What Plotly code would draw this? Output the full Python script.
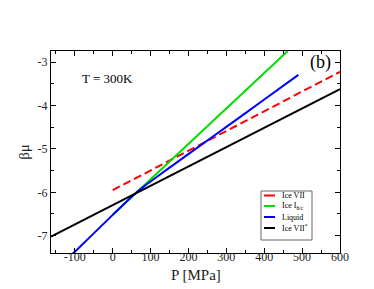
import plotly.graph_objects as go

# data
p_ice7 = [0, 600]
mu_ice7 = [-5.95, -3.22]
p_ice1 = [0, 462]
mu_ice1 = [-6.52, -2.74]
p_liq = [-110, -100, 0, 50, 80, 100, 150, 230, 300, 400, 490]
mu_liq = [-7.45, -7.37, -6.52, -6.1, -5.88, -5.75, -5.43, -4.93, -4.49, -3.86, -3.29]
p_ice7s = [-163, 600]
mu_ice7s = [-7.02, -3.62]

series_names = ["Ice VII", "Ice I<sub>h/c</sub>", "Liquid", "Ice VII<sup>*</sup>"]
series_colors = ["#ff0000", "#00dd00", "#0000ff", "#000000"]
series_dash = ["8px,4px", "solid", "solid", "solid"]

x_ticks = [-100, 0, 100, 200, 300, 400, 500, 600]
x_tick_labels = ["-100", "0", "100", "200", "300", "400", "500", "600"]
y_ticks = [-7, -6, -5, -4, -3]
y_tick_labels = ["-7", "-6", "-5", "-4", "-3"]

serif = "Liberation Serif"

fig = go.Figure()
for xs, ys, nm, col, ds in zip([p_ice7, p_ice1, p_liq, p_ice7s],
                               [mu_ice7, mu_ice1, mu_liq, mu_ice7s],
                               series_names, series_colors, series_dash):
    line = dict(color=col, width=2, dash=ds)
    if nm == "Liquid":
        line.update(shape="spline", smoothing=0.6)
    fig.add_trace(go.Scatter(x=xs, y=ys, mode="lines", name=nm, line=line, showlegend=False))

axis_common = dict(showline=True, linecolor="black", linewidth=1, mirror="allticks",
                   ticks="inside", ticklen=5, tickcolor="black", showgrid=False,
                   zeroline=False, tickfont=dict(family=serif, size=12, color="#222"))

fig.update_xaxes(range=[-163, 600], tickvals=x_ticks, ticktext=x_tick_labels,
                 minor=dict(dtick=50, tick0=0, ticks="inside", ticklen=3, tickcolor="black"),
                 ticklabelstandoff=-7,
                 **axis_common)
fig.update_yaxes(range=[-7.4, -2.74], tickvals=y_ticks, ticktext=y_tick_labels,
                 minor=dict(dtick=0.5, tick0=0, ticks="inside", ticklen=3, tickcolor="black"),
                 title=dict(text="βμ", font=dict(family=serif, size=15, color="#222"), standoff=4),
                 **axis_common)

fig.add_annotation(xref="paper", yref="paper", x=0.5, y=-0.107, text="P [MPa]",
                   showarrow=False, yanchor="middle",
                   font=dict(family=serif, size=15, color="#222"))
fig.add_annotation(x=-13, y=-3.38, text="T = 300K", showarrow=False,
                   font=dict(family=serif, size=13, color="black"))
fig.add_annotation(x=548, y=-3.0, text="(b)", showarrow=False,
                   font=dict(family=serif, size=18, color="black"))

# manual compact legend (paper coordinates)
x0p, x1p = 43, 332
y0p, y1p = 43, 245
def px_x(v):
    return (v - x0p) / (x1p - x0p)
def px_y(v):
    return (y1p - v) / (y1p - y0p)

fig.add_shape(type="rect", xref="paper", yref="paper",
              x0=px_x(253), x1=px_x(304), y0=px_y(232), y1=px_y(183),
              line=dict(color="#666", width=1), fillcolor="white", layer="above")
entry_y = [187.5, 198, 209, 220]
for nm, col, ds, ey in zip(series_names, series_colors, series_dash, entry_y):
    fig.add_shape(type="line", xref="paper", yref="paper",
                  x0=px_x(256), x1=px_x(267), y0=px_y(ey), y1=px_y(ey),
                  line=dict(color=col, width=2, dash="solid"), layer="above")
    fig.add_annotation(xref="paper", yref="paper", x=px_x(272), y=px_y(ey),
                       text=nm, showarrow=False, xanchor="left", yanchor="middle",
                       font=dict(family=serif, size=8, color="black"))

fig.update_layout(
    width=374, height=289,
    margin=dict(l=43, r=42, t=43, b=44),
    paper_bgcolor="white", plot_bgcolor="white",
    showlegend=False,
)

fig.write_html("out.html")
